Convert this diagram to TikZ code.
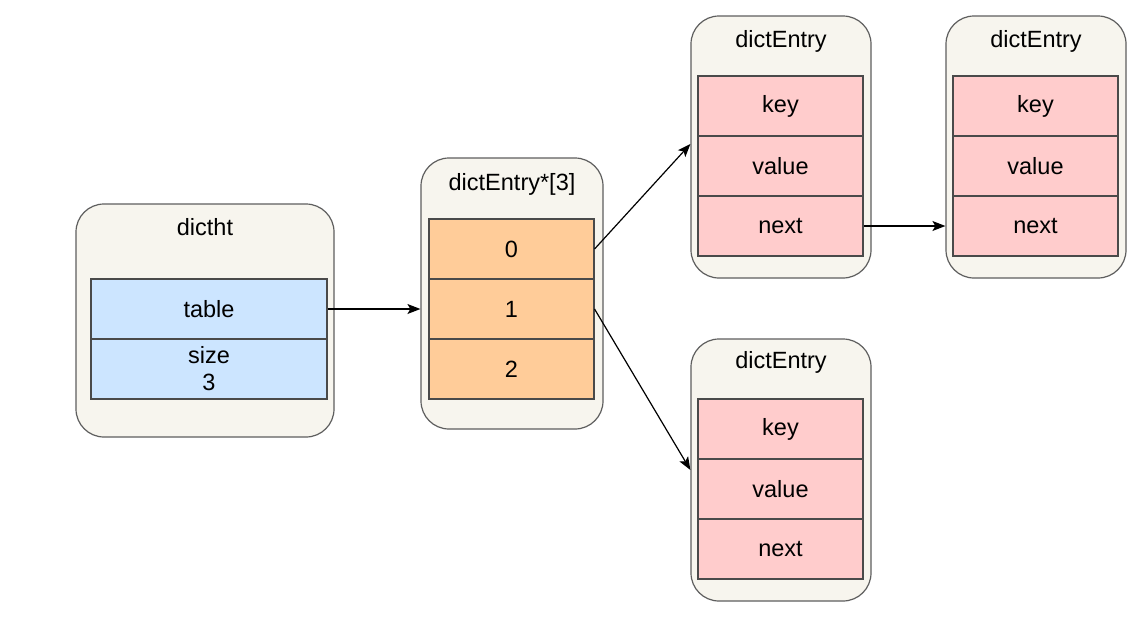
\documentclass[tikz,border=0pt]{standalone}
\usepackage{fontspec}
\setmainfont{Liberation Sans}
\usetikzlibrary{arrows.meta}
\definecolor{contfill}{HTML}{F7F5EE}
\definecolor{contdraw}{HTML}{5E5E5E}
\definecolor{bluefill}{HTML}{CCE5FF}
\definecolor{orangefill}{HTML}{FFCC99}
\definecolor{pinkfill}{HTML}{FFCCCC}
\definecolor{celldraw}{HTML}{4A4A4A}
\tikzset{
  cont/.style={draw=contdraw, fill=contfill, line width=1.2pt, rounded corners=28pt, inner sep=0pt},
  title/.style={font=\fontsize{23.5}{27}\selectfont, inner sep=0pt, text height=17pt, text depth=4pt},
  cell/.style={draw=celldraw, line width=1.1pt, minimum height=60pt, inner sep=0pt,
     font=\fontsize{23.5}{27}\selectfont, align=center},
  bluecell/.style={cell, fill=bluefill, minimum width=236pt},
  orangecell/.style={cell, fill=orangefill, minimum width=165pt},
  pinkcell/.style={cell, fill=pinkfill, minimum width=165pt},
  arr/.style={line width=1.2pt, -{Stealth[length=13pt,width=10pt,inset=3pt]}}
}
\begin{document}
\begin{tikzpicture}[x=1pt,y=-1pt]
\path[use as bounding box, fill=white] (0,0) rectangle (1148,616);
% containers
\node[cont, minimum width=258pt, minimum height=233pt] (ht) at (205,320.5) {};
\node[cont, minimum width=182pt, minimum height=271pt] (arr) at (512,293.5) {};
\node[cont, minimum width=180pt, minimum height=262pt] (A) at (781,147) {};
\node[cont, minimum width=180pt, minimum height=262pt] (B) at (1036,147) {};
\node[cont, minimum width=180pt, minimum height=262pt] (C) at (781,470) {};
% titles
\node[title] (htt) at (205,229) {dictht};
\node[title] (arrt) at (512,184) {dictEntry*[3]};
\node[title] (At) at (781,41) {dictEntry};
\node[title] (Bt) at (1036,41) {dictEntry};
\node[title] (Ct) at (781,362) {dictEntry};
% dictht cells
\node[bluecell] (table) at (209,309) {table};
\node[bluecell] (size) at (209,369) {size\\3};
% array cells
\node[orangecell] (c0) at (511.5,249) {0};
\node[orangecell] (c1) at (511.5,309) {1};
\node[orangecell] (c2) at (511.5,369) {2};
% entry A
\node[pinkcell] (Akey) at (780.5,106) {key};
\node[pinkcell] (Avalue) at (780.5,166) {value};
\node[pinkcell] (Anext) at (780.5,226) {next};
% entry B
\node[pinkcell] (Bkey) at (1035.5,106) {key};
\node[pinkcell] (Bvalue) at (1035.5,166) {value};
\node[pinkcell] (Bnext) at (1035.5,226) {next};
% entry C
\node[pinkcell] (Ckey) at (780.5,429) {key};
\node[pinkcell] (Cvalue) at (780.5,489) {value};
\node[pinkcell] (Cnext) at (780.5,549) {next};
% connectors
\draw[arr] (table.east) -- (table.east -| arr.west);
\draw[arr] (c0.east) -- ([yshift=3pt]A.west);
\draw[arr] (c1.east) -- (C.west);
\draw[arr] (Anext.east) -- (Anext.east -| B.west);
\end{tikzpicture}
\end{document}
